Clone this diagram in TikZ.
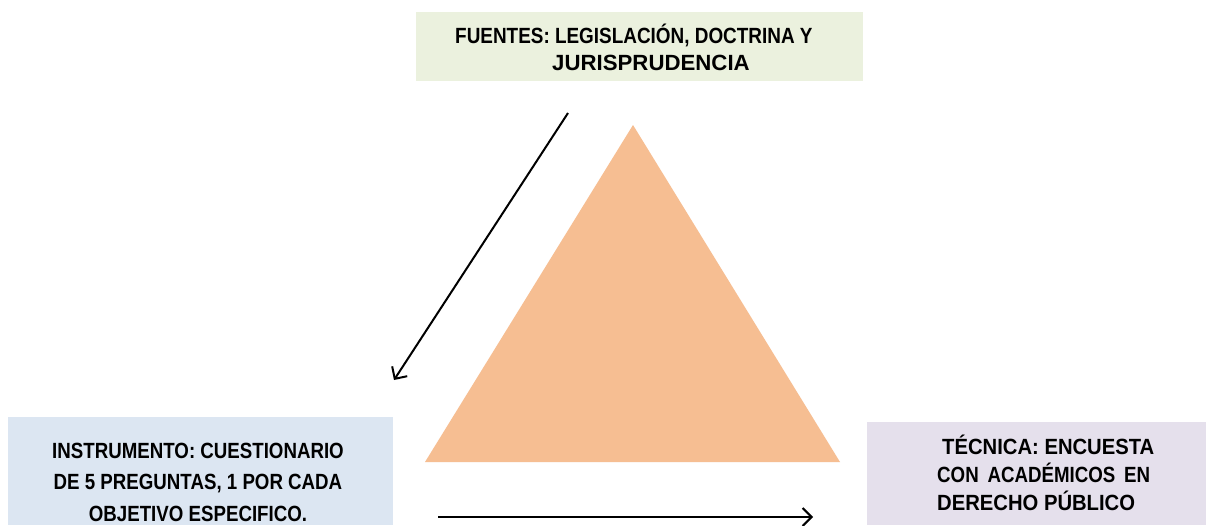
\documentclass[tikz,border=0pt]{standalone}
\usepackage{fontspec}
\setmainfont{Liberation Sans}[FakeStretch=0.85]
\newfontfamily\topfont{Liberation Sans}[FakeStretch=0.86]
\newfontfamily\topwidefont{Liberation Sans}[FakeStretch=1.01]
\newfontfamily\leftfont{Liberation Sans}[FakeStretch=0.85]
\newfontfamily\rightfont{Liberation Sans}[FakeStretch=0.92]
\newfontfamily\rightnarrowfont{Liberation Sans}[FakeStretch=0.85]
\usetikzlibrary{arrows.meta}
\definecolor{topfill}{HTML}{EBF1DE}
\definecolor{leftfill}{HTML}{DCE6F2}
\definecolor{rightfill}{HTML}{E5E0EC}
\definecolor{trifill}{HTML}{F6BE92}
\tikzset{
  box/.style={rectangle, inner sep=0pt, draw=none},
  lbl/.style={inner sep=0pt},
  arr/.style={line width=2pt, -{Straight Barb[length=9pt,width=18pt,line width=2pt]}}
}
\begin{document}
\begin{tikzpicture}[x=1pt,y=-1pt]
\useasboundingbox (0,0) rectangle (1206,525);
\fill[white] (0,0) rectangle (1206,525);
% boxes
\node[box, fill=topfill, minimum width=447pt, minimum height=69pt] (topbox) at (639.5,46.5) {};
\node[box, fill=leftfill, minimum width=385pt, minimum height=108pt] (leftbox) at (200.5,471) {};
\node[box, fill=rightfill, minimum width=339pt, minimum height=103pt] (rightbox) at (1036.5,473.5) {};
% triangle
\fill[trifill] (633,125) -- (425,462) -- (840,462) -- cycle;
% texts
\node[lbl, font=\topfont\fontsize{22}{27}\selectfont\bfseries, align=left, anchor=north west] (toptxt) at (455,24) {FUENTES: LEGISLACIÓN, DOCTRINA Y\\\hspace*{97pt}{\topwidefont\bfseries JURISPRUDENCIA}};
\node[lbl, font=\leftfont\fontsize{22}{31.5}\selectfont\bfseries, align=center] (lefttxt) at (198,482) {INSTRUMENTO: CUESTIONARIO\\DE 5 PREGUNTAS, 1 POR CADA\\OBJETIVO ESPECIFICO.};
\node[lbl, font=\rightfont\fontsize{22}{28}\selectfont\bfseries, align=left, anchor=north west] (righttxt) at (937,435) {\hspace*{5pt}TÉCNICA: ENCUESTA\\{\rightnarrowfont\bfseries\makebox[213pt][s]{CON ACADÉMICOS EN}}\\DERECHO PÚBLICO};
% arrows
\coordinate (a1s) at (568,113);
\coordinate (a1e) at (394,380);
\coordinate (a2s) at (438,517);
\coordinate (a2e) at (813,517);
\draw[arr] (a1s) -- (a1e);
\draw[arr] (a2s) -- (a2e);
\end{tikzpicture}
\end{document}
